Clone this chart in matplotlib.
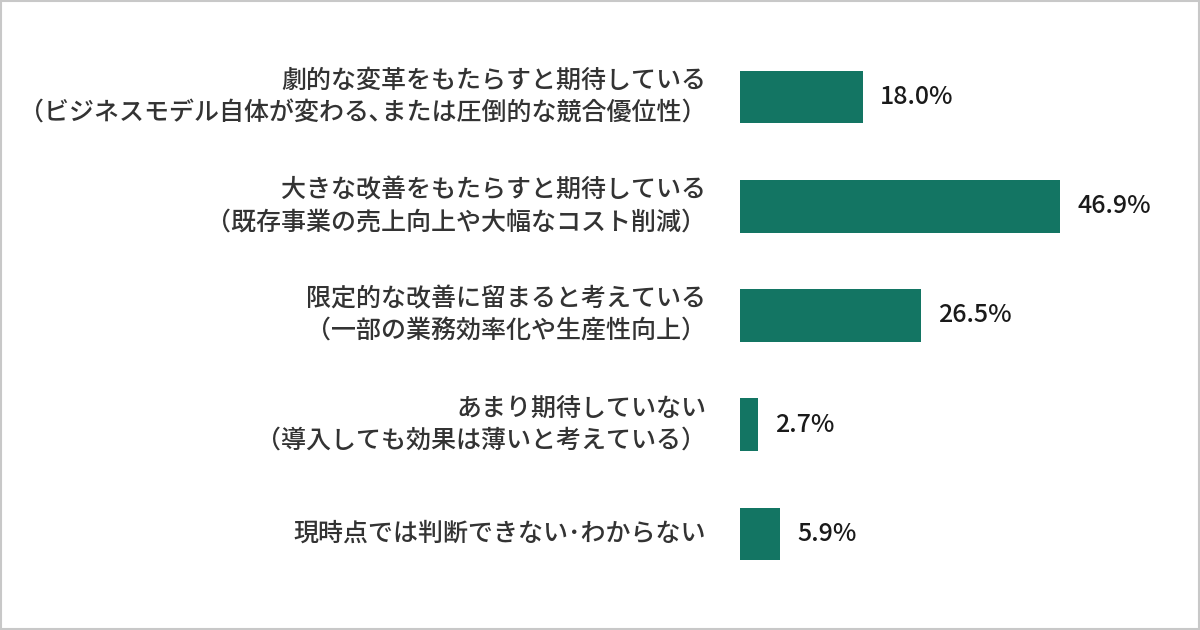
import matplotlib
matplotlib.use("Agg")
import matplotlib.pyplot as plt
from matplotlib.patches import Rectangle

plt.rcParams['font.family'] = ['Noto Sans CJK JP', 'DejaVu Sans']

categories = [
    "劇的な変革をもたらすと期待している\n（ビジネスモデル自体が変わる､または圧倒的な競合優位性）",
    "大きな改善をもたらすと期待している\n（既存事業の売上向上や大幅なコスト削減）",
    "限定的な改善に留まると考えている\n（一部の業務効率化や生産性向上）",
    "あまり期待していない\n（導入しても効果は薄いと考えている）",
    "現時点では判断できない･わからない",
]
values = [18.0, 46.9, 26.5, 2.7, 5.9]
value_labels = ["18.0%", "46.9%", "26.5%", "2.7%", "5.9%"]

W, H = 1200, 630
fig = plt.figure(figsize=(12, 6.3), dpi=100)
fig.patch.set_facecolor("white")

ax = fig.add_axes([740 / W, 1 - 588.5 / H, 683 / W, 546 / H])
ypos = list(range(len(values)))
ax.barh(ypos, values, height=0.48, color="#137563", edgecolor="none")
ax.set_xlim(0, 100)
ax.set_ylim(4.5, -0.5)
ax.axis("off")

for y, cat, v, lab in zip(ypos, categories, values, value_labels):
    ax.annotate(cat, xy=(0, y), xytext=(-34, 0), textcoords="offset pixels",
                ha="right", va="center", fontsize=18, color="#333333",
                fontweight="medium", linespacing=1.3, multialignment="right")
    ax.annotate(lab, xy=(v, y), xytext=(17, 0), textcoords="offset pixels",
                ha="left", va="center", fontsize=18, color="#1a1a1a",
                fontweight="medium")

fig.patches.append(Rectangle((1 / W, 1 / H), 1 - 2 / W, 1 - 2 / H,
                             transform=fig.transFigure, fill=False,
                             edgecolor="#c8c8c8", linewidth=1.5))

fig.savefig("out.png", dpi=100)
